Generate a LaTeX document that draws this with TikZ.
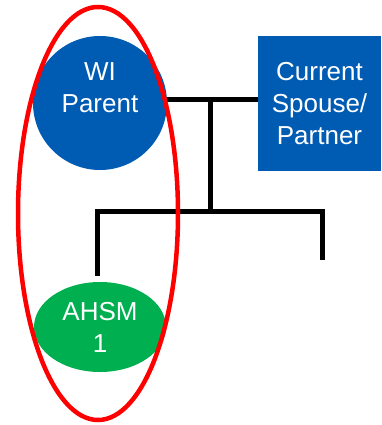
\documentclass[tikz,border=0pt]{standalone}
\usepackage{fontspec}
\setmainfont{Liberation Sans}
\usetikzlibrary{positioning,shapes.geometric,calc}
\usepackage{xcolor}
\definecolor{wiblue}{RGB}{0,91,179}
\definecolor{ahsmgreen}{RGB}{0,176,80}

\begin{document}
\begin{tikzpicture}[x=1pt, y=-1pt] % pixel-like units, y grows downwards
  % Define styles for the family chart
  \tikzset{
    person/.style={
      fill=wiblue,
      text=white,
      inner sep=0pt,
      align=center,
      font=\fontsize{26}{32}\selectfont
    },
    parent/.style={person, circle, minimum size=134pt},
    partner/.style={person, rectangle, minimum width=123pt, minimum height=135pt},
    child/.style={person, ellipse, fill=ahsmgreen, minimum width=132pt, minimum height=90pt},
    link/.style={
      draw=black,
      line width=5pt
    },
    ring/.style={
      draw=red,
      line width=4.5pt
    }
  }
  \useasboundingbox (0,0) rectangle (381,425);

  % Parents and child
  \node[parent] (wi) at (100,103) {};
  \node[person, fill=none] (witext) at (100,88) {WI\\Parent};
  \node[partner] (spouse) at (319.5,103.5) {Current\\Spouse/\\Partner};
  \node[child] (ahsm) at (100,327) {AHSM\\1};

  % Points of the family line
  \coordinate (join) at (210,100);
  \coordinate (fork) at (210,211.5);
  \coordinate (stub) at (322,260);

  % Marriage line and descent line
  \draw[link] (wi.east |- join) -- (spouse.west |- join);
  \draw[link] (join) -- (fork);
  \draw[link, shorten <=6pt] ([xshift=-2.5pt]ahsm.north) -- ([xshift=-2.5pt]ahsm.north |- fork) -- (stub |- fork) -- (stub);

  % Highlight round the WI parent and child
  \draw[ring] (98,213.5) ellipse [x radius=80, y radius=206.5];
\end{tikzpicture}
\end{document}
